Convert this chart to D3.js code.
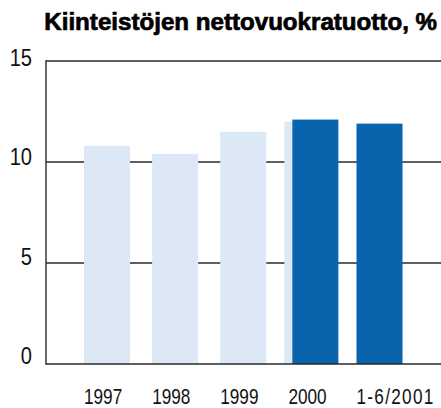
<!DOCTYPE html>
<html>
<head>
<meta charset="utf-8">
<script src="https://cdn.jsdelivr.net/npm/d3@7"></script>
<style>
  html, body { margin: 0; padding: 0; background: #fff; }
  svg { display: block; }
  .narrow { font-family: "Liberation Sans", Arial, sans-serif; }
</style>
</head>
<body>
<svg id="chart" width="441" height="408"></svg>
<script>
const title = "Kiinteistöjen nettovuokratuotto, %";
const categories = ["1997", "1998", "1999", "2000", "1-6/2001"];
const seriesLight = [10.8, 10.4, 11.5, 12.0, null];
const seriesDark = [null, null, null, 12.1, 11.9];
const yTicks = [0, 5, 10, 15];

(function () {
const mLeft = 46, mRight = 441, mTop = 61, mBottom = 364;
const barW = 46, shift = 4;
const squeeze = 0.8;

const svg = d3.select("#chart");

const x = d3.scalePoint().domain(categories).range([107, 379.5]);
const y = d3.scaleLinear().domain([0, 15]).range([mBottom, mTop]);
const yLab = d3.scaleLinear().domain([0, 15]).range([mBottom, 66]);

// gridlines
svg.append("g").selectAll("line").data(yTicks.filter(d => d > 0)).join("line")
  .attr("x1", mLeft).attr("x2", mRight)
  .attr("y1", d => y(d)).attr("y2", d => y(d))
  .attr("stroke", "#2a2a2a").attr("stroke-width", 1.4);

const lightData = categories.map((c, i) => ({c, v: seriesLight[i], dark: seriesDark[i] != null})).filter(d => d.v != null);
const darkData = categories.map((c, i) => ({c, v: seriesDark[i], light: seriesLight[i] != null})).filter(d => d.v != null);

svg.append("g").selectAll("rect").data(lightData).join("rect")
  .attr("x", d => x(d.c) - barW / 2 - (d.dark ? shift : 0))
  .attr("width", barW)
  .attr("y", d => y(d.v))
  .attr("height", d => y(0) - y(d.v))
  .attr("fill", "#dce8f5");

svg.append("g").selectAll("rect").data(darkData).join("rect")
  .attr("x", d => x(d.c) - barW / 2 + (d.light ? shift : 0))
  .attr("width", barW)
  .attr("y", d => y(d.v))
  .attr("height", d => y(0) - y(d.v))
  .attr("fill", "#0a63ad");

// axes lines
svg.append("line").attr("x1", mLeft).attr("x2", mLeft).attr("y1", mTop - 0.7).attr("y2", mBottom + 0.7)
  .attr("stroke", "#2a2a2a").attr("stroke-width", 1.4);
svg.append("line").attr("x1", mLeft).attr("x2", mRight).attr("y1", mBottom).attr("y2", mBottom)
  .attr("stroke", "#2a2a2a").attr("stroke-width", 1.4);

// y labels
svg.append("g").selectAll("text").data(yTicks).join("text")
  .attr("class", "narrow")
  .attr("transform", d => `translate(32,${yLab(d)}) scale(0.82,1)`)
  .attr("text-anchor", "end")
  .attr("font-size", 24.5)
  .attr("fill", "#111")
  .text(d => d);

// x labels
svg.append("g").selectAll("text").data(categories).join("text")
  .attr("class", "narrow")
  .attr("transform", d => `translate(${x(d) - barW / 2},404) scale(${squeeze},1)`)
  .attr("font-size", 21.5)
  .attr("letter-spacing", d => d.length > 4 ? 1.6 : 0)
  .attr("fill", "#111")
  .text(d => d);

// title
const t = svg.append("text")
  .attr("x", 437).attr("y", 30)
  .attr("text-anchor", "end")
  .attr("font-family", "'Liberation Sans', Arial, sans-serif")
  .attr("font-weight", 900)
  .attr("font-size", 19)
  .attr("fill", "#000")
  .attr("stroke", "#000")
  .attr("stroke-width", 0.7)
  .text(title);
const tw = t.node().getComputedTextLength();
t.attr("font-size", 19 * 393 / tw);
})();
</script>
</body>
</html>
